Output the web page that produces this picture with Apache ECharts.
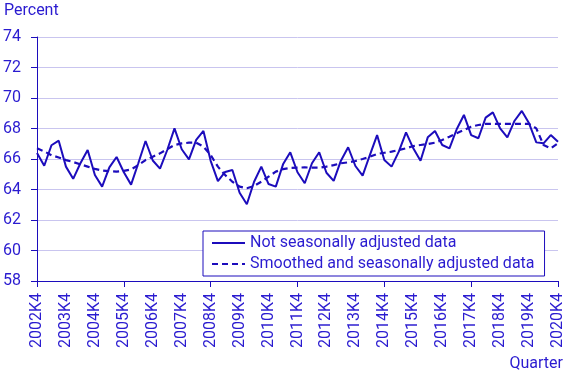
<!DOCTYPE html>
<html>
<head>
<meta charset="utf-8">
<script src="https://cdn.jsdelivr.net/npm/echarts@6/dist/echarts.min.js"></script>
<style>html,body{margin:0;padding:0;background:#fff}#c{width:568px;height:378px}</style>
</head>
<body>
<div id="c"></div>
<script>
// Quarter labels 2002K4 ... 2020K4
const categories = [];
for (let y = 2002; y <= 2020; y++) {
  const qs = (y === 2002) ? [4] : [1,2,3,4];
  for (const q of qs) categories.push(y + 'K' + q);
}
const notSeasonallyAdjusted = [
  66.4, 65.56, 66.9, 67.2, 65.5, 64.7, 65.72, 66.59, 64.95, 64.19,
  65.45, 66.13, 65.13, 64.32, 65.72, 67.18, 65.9, 65.37, 66.59, 68.01,
  66.64, 65.98, 67.25, 67.84, 65.88, 64.55, 65.15, 65.28, 63.79, 63.03,
  64.51, 65.5, 64.36, 64.19, 65.65, 66.44, 65.13, 64.41, 65.72, 66.44,
  65.1, 64.56, 65.89, 66.77, 65.54, 64.91, 66.26, 67.57, 65.93, 65.5,
  66.48, 67.75, 66.7, 65.89, 67.42, 67.84, 66.92, 66.7, 67.95, 68.89,
  67.57, 67.36, 68.71, 69.06, 68.01, 67.42, 68.51, 69.15, 68.34, 67.09,
  67.03, 67.57, 67.13
];
const smoothedSeasonallyAdjusted = [
  66.7, 66.5, 66.25, 66.1, 65.93, 65.8, 65.65, 65.5, 65.35, 65.25,
  65.2, 65.17, 65.22, 65.32, 65.6, 65.93, 66.15, 66.37, 66.65, 66.92,
  67.02, 67.07, 67.07, 66.81, 66.26, 65.5, 64.95, 64.51, 64.19, 64.08,
  64.23, 64.51, 64.84, 65.17, 65.34, 65.41, 65.43, 65.45, 65.43, 65.43,
  65.5, 65.6, 65.72, 65.78, 65.87, 66.0, 66.15, 66.33, 66.41, 66.48,
  66.59, 66.7, 66.85, 66.92, 66.98, 67.07, 67.25, 67.46, 67.69, 67.9,
  68.12, 68.23, 68.3, 68.31, 68.3, 68.3, 68.3, 68.3, 68.3, 68.01,
  66.92, 66.7, 67.03
];
const seriesNames = ['Not seasonally adjusted data', 'Smoothed and seasonally adjusted data'];
const yTicks = { min: 58, max: 74, interval: 2 };

const TXT = '#2a1bd0';
const LINE = '#1c0cbc';
const FONT = 'Roboto, "DejaVu Sans", sans-serif';

const chart = echarts.init(document.getElementById('c'), null, { renderer: 'canvas' });
chart.setOption({
  animation: false,
  textStyle: { fontFamily: FONT, color: TXT },
  title: [
    { text: 'Percent', left: 4, top: 3, padding: 0,
      textStyle: { fontFamily: FONT, fontSize: 16, fontWeight: 'normal', color: TXT } },
    { text: 'Quarter', right: 5, top: 356, padding: 0,
      textStyle: { fontFamily: FONT, fontSize: 16, fontWeight: 'normal', color: TXT } }
  ],
  grid: { left: 37, right: 10, top: 37, bottom: 97, containLabel: false },
  legend: {
    orient: 'vertical', left: 203, top: 231,
    padding: [4, 10, 4, 8],
    itemGap: 5,
    itemWidth: 33, itemHeight: 14,
    backgroundColor: '#fff',
    borderColor: LINE, borderWidth: 1,
    itemStyle: { opacity: 0 },
    textStyle: { fontFamily: FONT, fontSize: 16, color: TXT, padding: [0, 0, 0, 0] },
    data: seriesNames
  },
  xAxis: {
    type: 'category',
    data: categories,
    boundaryGap: false,
    axisLine: { lineStyle: { color: LINE, width: 1 } },
    axisTick: { show: true, interval: 11, length: 6, lineStyle: { color: LINE } },
    axisLabel: { interval: 3, rotate: 90, margin: 12, fontSize: 16, color: TXT, fontFamily: FONT },
    splitLine: { show: false }
  },
  yAxis: {
    type: 'value',
    min: yTicks.min, max: yTicks.max, interval: yTicks.interval,
    axisLine: { show: true, lineStyle: { color: LINE, width: 1 } },
    axisTick: { show: true, length: 6, lineStyle: { color: LINE } },
    axisLabel: { margin: 16, fontSize: 16, color: TXT, fontFamily: FONT },
    splitLine: { show: true, lineStyle: { color: '#c9c5ef', width: 1 } }
  },
  series: [
    {
      name: seriesNames[0], type: 'line', data: notSeasonallyAdjusted,
      symbol: 'none', smooth: false,
      lineStyle: { color: LINE, width: 2 },
      itemStyle: { color: LINE }
    },
    {
      name: seriesNames[1], type: 'line', data: smoothedSeasonallyAdjusted,
      symbol: 'none', smooth: false,
      lineStyle: { color: LINE, width: 2.2, type: [6, 4] },
      itemStyle: { color: LINE }
    }
  ]
});
</script>
</body>
</html>
